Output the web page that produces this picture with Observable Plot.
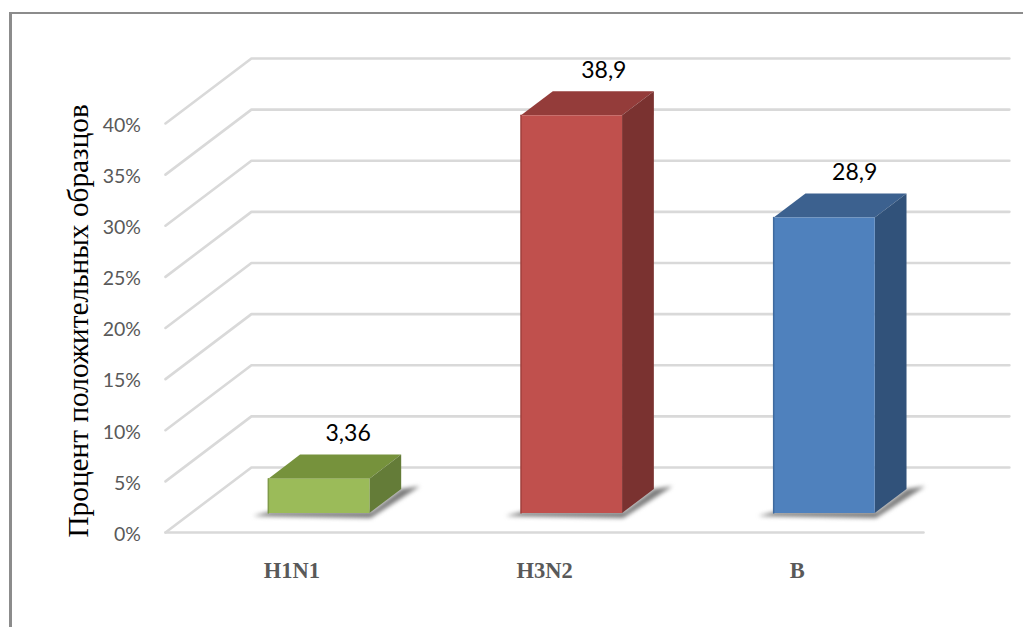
<!DOCTYPE html>
<html><head><meta charset="utf-8">
<script src="https://cdn.jsdelivr.net/npm/d3@7"></script>
<script src="https://cdn.jsdelivr.net/npm/@observablehq/plot@0.6"></script>
<style>
html,body{margin:0;padding:0;background:#fff;overflow:hidden}
#frame{position:absolute;left:9px;top:12px;right:-10px;bottom:-10px;border-left:3px solid #8c8c8c;border-top:2px solid #8c8c8c}
#chart{position:absolute;left:0;top:0}
</style></head><body>
<div id="frame"></div><div id="chart"></div>
<script>
const categories = ["H1N1", "H3N2", "B"];
const values = [3.36, 38.9, 28.9];
const valueLabels = ["3,36", "38,9", "28,9"];
const ticks = [0, 5, 10, 15, 20, 25, 30, 35, 40];
const frontColors = ["#9BBB59", "#C0504D", "#4F81BD"];
const edgeColors = ["#7f9a48", "#a03f3d", "#3f6a9e"];
const topColors = ["#76923C", "#943C3A", "#3C618F"];
const sideColors = ["#647C38", "#7A3230", "#31527A"];
const labelShift = [0.05, 0.062, 0.055];

// oblique projection: depth 0 = front floor edge, depth 1 = back wall
const skewX = 0.34, skewY = 6.36;
const P = (c, v, d) => ({x: c + d * skewX, y: v + d * skewY});
const d0 = 0.3, d1 = 0.67, halfW = 0.2, cOff = 0.505;
const bars = categories.map((name, i) => ({
  name, v: values[i], label: valueLabels[i],
  l: i + cOff - halfW, r: i + cOff + halfW, i
}));
const poly = [], shadow = [], grid = [], edges = [];
for (const b of bars) {
  const add = (k, fill, pts) => pts.forEach(p => poly.push({...p, id: b.name + k, fill}));
  add("top", topColors[b.i], [P(b.l, b.v, d0), P(b.r, b.v, d0), P(b.r, b.v, d1), P(b.l, b.v, d1)]);
  add("side", sideColors[b.i], [P(b.r, 0, d0), P(b.r, b.v, d0), P(b.r, b.v, d1), P(b.r, 0, d1)]);
  add("front", frontColors[b.i], [P(b.l, 0, d0), P(b.r, 0, d0), P(b.r, b.v, d0), P(b.l, b.v, d0)]);
  [P(b.l, 0, d0), P(b.l, b.v, d0)].forEach(p => edges.push({...p, id: b.name, stroke: edgeColors[b.i]}));
  [P(b.l - 0.06, -0.3, d0), P(b.l, 0, d0 + .02), P(b.r, 0, d0 + .02), P(b.r, 0, d1), P(b.r + 0.06, 0, d1 + .04), P(b.r + 0.015, -0.3, d0 - .03)]
    .forEach(p => shadow.push({...p, id: b.name}));
}
for (const t of ticks) {
  [P(0, t, 0), P(0, t, 1), P(3, t, 1)].forEach(p => grid.push({...p, t}));
}
const floor = [P(0, 0, 0), P(3, 0, 0)];

const fig = Plot.plot({
  width: 1023, height: 627,
  marginLeft: 165, marginRight: 100, marginTop: 123, marginBottom: 95,
  x: {domain: [0, 3]},
  y: {domain: [0, 40]},
  color: {type: "identity"},
  marks: [
    Plot.line(grid, {x: "x", y: "y", z: "t", stroke: "#d9d9d9", strokeWidth: 2.6}),
    Plot.line(floor, {x: "x", y: "y", stroke: "#d9d9d9", strokeWidth: 2.6}),
    Plot.line(shadow, {x: "x", y: "y", z: "id", fill: "#7a7a7a", stroke: "none", curve: "linear-closed", imageFilter: "blur(2px)"}),
    Plot.line(poly, {x: "x", y: "y", z: "id", fill: "fill", stroke: "none", curve: "linear-closed"}),
    Plot.line(edges, {x: "x", y: "y", z: "id", stroke: "stroke", strokeWidth: 1.5}),
    Plot.axisY({ticks, tickSize: 0, tickPadding: 24.5, dy: 2, tickFormat: d => d + "%", fontSize: 19.5, fontFamily: "Lato", color: "#595959", label: null}),
    Plot.axisX({ticks: [0.5, 1.5, 2.5], tickSize: 0, tickPadding: 30, tickFormat: d => categories[d - 0.5], fontSize: 22.5, fontWeight: "bold", fontFamily: "Liberation Serif", color: "#595959", label: null}),
    Plot.text(bars, {x: d => d.r + labelShift[d.i] - halfW + d1 * skewX - 0.06, y: d => d.v + d1 * skewY, text: "label", dy: -21, fontSize: 23, fontFamily: "Lato", fill: "#000"}),
    Plot.text(["Процент положительных образцов"], {frameAnchor: "left", textAnchor: "middle", dx: -87, y: [20.7], rotate: -90, fontSize: 29.3, fontFamily: "Liberation Serif", fill: "#000"})
  ]
});
document.getElementById("chart").appendChild(fig);
</script>
</body></html>
